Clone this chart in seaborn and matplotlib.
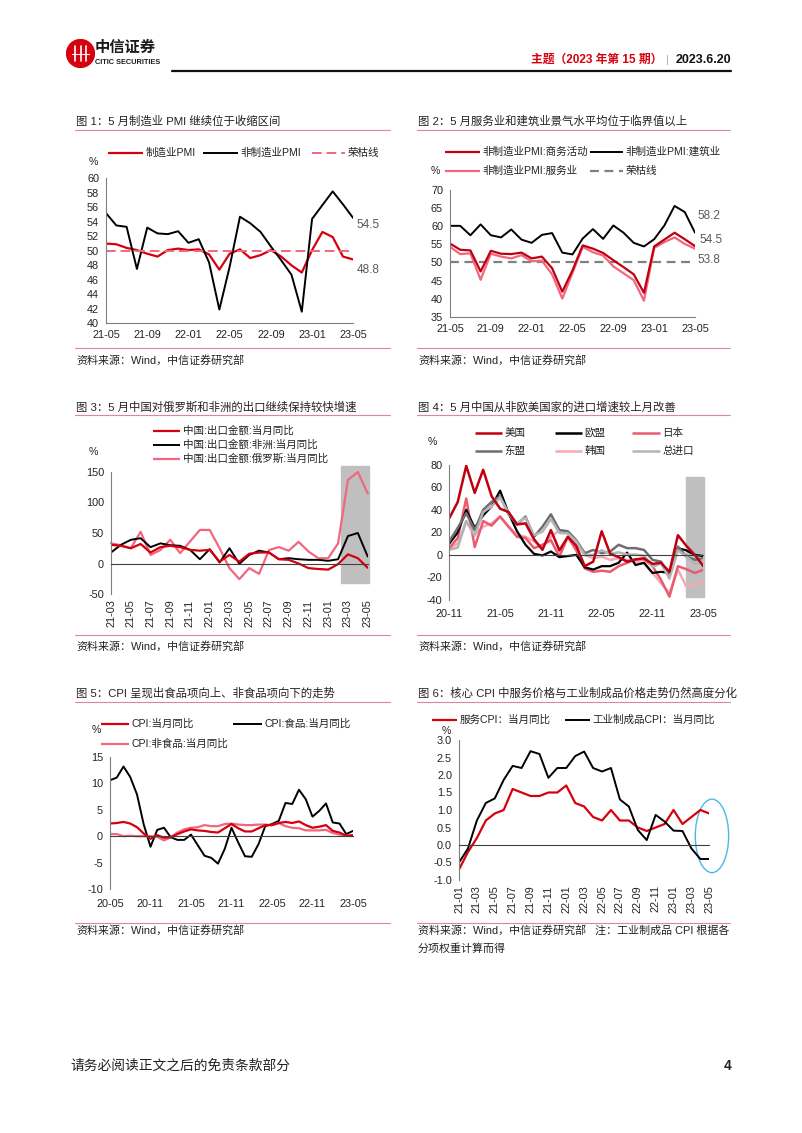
import numpy as np
import pandas as pd
import matplotlib
matplotlib.use("Agg")
import matplotlib.pyplot as plt
import seaborn as sns
from matplotlib.lines import Line2D
from matplotlib.patches import Ellipse, Circle, Rectangle

# ---------------- data ----------------
# Chart 1 / 2 : 2021-05 .. 2023-05
months_pmi = pd.period_range("2021-05", "2023-05", freq="M").strftime("%y-%m").tolist()
mfg_pmi = [51.0, 50.9, 50.4, 50.1, 49.6, 49.2, 50.1, 50.3, 50.1, 50.2, 49.5, 47.4, 49.6,
           50.2, 49.0, 49.4, 50.1, 49.2, 48.0, 47.0, 50.1, 52.6, 51.9, 49.2, 48.8]
nonmfg_pmi = [55.2, 53.5, 53.3, 47.5, 53.2, 52.4, 52.3, 52.7, 51.1, 51.6, 48.4, 41.9, 47.8,
              54.7, 53.8, 52.6, 50.6, 48.7, 46.7, 41.6, 54.4, 56.3, 58.2, 56.4, 54.5]
construction_pmi = [60.1, 60.1, 57.5, 60.5, 57.5, 56.9, 59.1, 56.3, 55.4, 57.6, 58.1, 52.7, 52.2,
                    56.6, 59.2, 56.5, 60.2, 58.2, 55.4, 54.4, 56.4, 60.2, 65.6, 63.9, 58.2]
services_pmi = [54.3, 52.3, 52.5, 45.2, 52.4, 51.6, 51.1, 52.0, 50.3, 50.5, 46.7, 40.0, 47.1,
                54.3, 52.8, 51.9, 48.9, 47.0, 45.1, 39.4, 54.0, 55.6, 56.9, 55.1, 53.8]
boom_line = 50

# Chart 3 : 2021-03 .. 2023-05
months_exp = pd.period_range("2021-03", "2023-05", freq="M").strftime("%y-%m").tolist()
exp_total = [30.6, 29, 25, 32, 18, 26.8, 29, 26.8, 22.4, 21, 22.4, 3, 14, 3, 16, 18, 18, 7,
             6, 0, -7.6, -9, -10, -1, 15, 8.7, -7]
exp_africa = [18, 30.6, 38.8, 41.5, 26.8, 33, 30, 29, 22.4, 7, 23.5, 1.6, 25, -0.5, 14, 21, 18,
              7, 8.7, 7, 6, 6, 4.4, 7, 45, 50, 11.5]
exp_russia = [33, 30, 25, 52, 14, 22, 39, 17, 36, 55, 55, 25, -7.6, -25.7, -7.6, -17, 22, 27,
              21, 35.5, 19.7, 8.7, 8.7, 33, 137, 150, 115]
exp_shade = (23.3, 26.1, -31.5, 160)

# Chart 4 : 2020-11 .. 2023-05
months_imp = pd.period_range("2020-11", "2023-05", freq="M").strftime("%y-%m").tolist()
imp_us = [32.6, 47, 79, 55, 75.5, 52, 41, 38, 27, 28, 14, 4.5, 22, 4, 16, 8, -10, -6, 21, 1,
          -2, -6, -4, -3, -8, -7, -15, 17.5, 8, 0, -10]
imp_eu = [10, 20, 40, 24, 35, 43, 57, 37, 21, 9, 1, -0.5, 3, -2, -1, 0, -11, -13, -10, -10,
          -7, 2, -9, -7, -16, -15, -16, 6, 4, 0, -1]
imp_japan = [6, 15, 50, 7, 30, 26, 34, 25, 16, 15, 6, 9, 13, -1.5, 16, 4, -12, -15, -14, -15,
             -10, -7, -4, -4, -10, -22, -37, -10, -12.7, -16, -13.3]
imp_asean = [12, 24, 37, 22, 40, 47, 52, 36, 27, 34, 16, 25, 36, 22, 21, 13, 1.5, 4.4, 1.5, 3,
             9, 6, 6, 4.4, -4.4, -6, -18, 7.4, -1.5, -4.4, -3]
imp_korea = [6, 10, 30, 18, 25, 28, 34, 25, 18, 16, 12, 7, 16, 22, 19, 10, 0, -3, -1.5, -4.4,
             -3, -4.4, -6, -7.4, -16, -25, -34, -13, -28, -26.7, -23.7]
imp_total = [4.5, 6.5, 30, 17, 38, 43, 51, 37, 28, 33, 17.6, 20.6, 31.7, 19.5, 19, 12, -0.1, 0,
             4.1, 1, 2.3, 0.3, 0.3, -0.7, -10.6, -7.5, -21, 4, -1.4, -7.9, -4.5]
imp_shade = (28.0, 30.05, -37.3, 69.3)

# Chart 5 : 2020-05 .. 2023-05
months_cpi = pd.period_range("2020-05", "2023-05", freq="M").strftime("%y-%m").tolist()
cpi_all = [2.4, 2.5, 2.7, 2.4, 1.7, 0.5, -0.5, 0.2, -0.3, -0.2, 0.4, 0.9, 1.3, 1.1, 1.0, 0.8,
           0.7, 1.5, 2.3, 1.5, 0.9, 0.9, 1.5, 2.1, 2.1, 2.5, 2.7, 2.5, 2.8, 2.1, 1.6, 1.8,
           2.1, 1.0, 0.7, 0.1, 0.2]
cpi_food = [10.6, 11.1, 13.2, 11.2, 7.9, 2.2, -2.0, 1.2, 1.6, -0.2, -0.7, -0.7, 0.3, -1.7,
            -3.7, -4.1, -5.2, -2.4, 1.6, -1.2, -3.8, -3.9, -1.5, 1.9, 2.3, 2.9, 6.3, 6.1,
            8.8, 7.0, 3.7, 4.8, 6.2, 2.6, 2.4, 0.4, 1.0]
cpi_nonfood = [0.4, 0.4, 0.0, 0.1, 0.0, 0.0, 0.0, -0.1, -0.8, -0.2, 0.7, 1.3, 1.6, 1.7, 2.1,
               1.9, 1.9, 2.3, 2.4, 2.2, 2.1, 2.1, 2.2, 2.2, 2.1, 2.5, 1.9, 1.6, 1.5, 1.1,
               1.1, 1.1, 1.2, 0.6, 0.3, 0.1, 0.0]

# Chart 6 : 2021-01 .. 2023-05
months_core = pd.period_range("2021-01", "2023-05", freq="M").strftime("%y-%m").tolist()
cpi_service = [-0.7, -0.2, 0.2, 0.7, 0.9, 1.0, 1.6, 1.5, 1.4, 1.4, 1.5, 1.5, 1.7, 1.2, 1.1,
               0.8, 0.7, 1.0, 0.7, 0.7, 0.5, 0.4, 0.5, 0.6, 1.0, 0.6, 0.8, 1.0, 0.9]
cpi_goods = [-0.5, -0.1, 0.7, 1.2, 1.33, 1.86, 2.26, 2.2, 2.68, 2.6, 1.92, 2.2, 2.2, 2.54,
             2.67, 2.2, 2.1, 2.2, 1.3, 1.1, 0.43, 0.14, 0.86, 0.67, 0.41, 0.4, -0.1, -0.4, -0.4]

# ---------------- style ----------------
sns.set_theme(style="white")
plt.rcParams["font.family"] = ["Liberation Sans", "Noto Sans CJK SC", "DejaVu Sans"]
plt.rcParams["axes.unicode_minus"] = False

RED = "#D7000F"
DARKRED = "#C00010"
PINK = "#F2677D"
LPINK = "#F5A9B4"
TXT = "#222222"
AXC = "#7f7f7f"

W, H = 802, 1133
fig = plt.figure(figsize=(W / 100, H / 100), dpi=100)
fig.patch.set_facecolor("white")


def add_ax(l, r, t, b):
    return fig.add_axes([l / W, 1 - b / H, (r - l) / W, (b - t) / H])


def ftext(x, y, s, **kw):
    kw.setdefault("va", "center")
    kw.setdefault("ha", "left")
    kw.setdefault("color", TXT)
    fig.text(x / W, 1 - y / H, s, **kw)


def fline(x0, x1, y, **kw):
    fig.add_artist(Line2D([x0 / W, x1 / W], [1 - y / H, 1 - y / H],
                          transform=fig.transFigure, **kw))


def legend_item(x0, x1, y, text, color, lw=1.6, dashes=None, fs=7.6):
    kw = dict(color=color, lw=lw, solid_capstyle="butt")
    if dashes is not None:
        kw["dashes"] = dashes
    fline(x0, x1, y, **kw)
    ftext(x1 + 2.5, y, text, fontsize=fs)


def style(ax):
    for s in ["top", "right"]:
        ax.spines[s].set_visible(False)
    for s in ["left", "bottom"]:
        ax.spines[s].set_color(AXC)
        ax.spines[s].set_linewidth(0.8)
    ax.tick_params(axis="both", direction="out", length=3, width=0.8, color=AXC,
                   labelsize=7.8, labelcolor=TXT, pad=2)
    ax.set_facecolor("none")
    ax.grid(False)
    ax.set_xlabel("")
    ax.set_ylabel("")


def panel_frame(x0, x1, ytitle, title, yline_top, yline_bot, ysrc, src_lines):
    ftext(x0 + 1, ytitle, title, fontsize=8.2)
    fline(x0, x1, yline_top, color="#D98A94", lw=0.8)
    fline(x0, x1, yline_bot, color="#D98A94", lw=0.8)
    for k, s in enumerate(src_lines):
        ftext(x0 + 1, ysrc + 19 * k, s, fontsize=7.9)


SRC = "资料来源：Wind，中信证券研究部"

# ---------------- header / footer ----------------
lax = fig.add_axes([66 / W, 1 - 68 / H, 29 / W, 29 / H])
lax.set_xlim(0, 1); lax.set_ylim(0, 1); lax.set_aspect("equal"); lax.axis("off")
lax.add_patch(Circle((0.5, 0.5), 0.48, color=RED))
for xx in [0.3, 0.5, 0.7]:
    lax.plot([xx, xx], [0.25, 0.75], color="white", lw=1.2)
lax.plot([0.22, 0.78], [0.5, 0.5], color="white", lw=0.8)
ftext(95, 48, "中信证券", fontsize=11, fontweight="bold", color="#1a1a1a")
ftext(95, 63, "CITIC SECURITIES", fontsize=5.3, fontweight="bold", color="#1a1a1a")
ftext(662, 60, "主题（2023 年第 15 期）", fontsize=8.5, fontweight="bold", color=RED, ha="right")
ftext(667, 60, "|", fontsize=8, color="#aaaaaa", ha="center")
ftext(731, 60, "2023.6.20", fontsize=9, fontweight="bold", color="#111111", ha="right")
fline(172, 731, 71, color="#111111", lw=1.6)
ftext(70, 1066, "请务必阅读正文之后的免责条款部分", fontsize=9.9)
ftext(731, 1066, "4", fontsize=9.9, fontweight="bold", ha="right")

# ---------------- Chart 1 ----------------
panel_frame(75, 390, 121, "图 1：5 月制造业 PMI 继续位于收缩区间", 130, 348, 360, [SRC])
ax1 = add_ax(106, 353.3, 178.3, 323.3)
x1 = np.arange(len(months_pmi))
sns.lineplot(x=x1, y=mfg_pmi, ax=ax1, color=RED, linewidth=1.6)
sns.lineplot(x=x1, y=nonmfg_pmi, ax=ax1, color="black", linewidth=1.4)
ax1.axhline(boom_line, color=PINK, lw=1.4, dashes=(5, 2.5))
style(ax1)
ax1.set_xlim(0, len(x1) - 1)
ax1.set_ylim(40, 60)
ax1.set_yticks(np.arange(40, 61, 2))
ax1.set_xticks(x1[::4])
ax1.set_xticklabels(months_pmi[::4])
ax1.text(24.35, nonmfg_pmi[-1] - 1.0, f"{nonmfg_pmi[-1]}", fontsize=8.5, color="#595959", va="center")
ax1.text(24.35, mfg_pmi[-1] - 1.45, f"{mfg_pmi[-1]}", fontsize=8.5, color="#595959", va="center")
legend_item(108, 143, 153, "制造业PMI", RED)
legend_item(203, 238, 153, "非制造业PMI", "black", lw=1.4)
legend_item(312, 345, 153, "荣枯线", PINK, lw=1.4, dashes=(5, 2.5))
ftext(89, 162, "%", fontsize=7.6)

# ---------------- Chart 2 ----------------
panel_frame(417, 730, 121, "图 2：5 月服务业和建筑业景气水平均位于临界值以上", 130, 348, 360, [SRC])
ax2 = add_ax(450, 695, 190, 316.7)
ax2.axhline(boom_line, color="#808080", lw=1.6, dashes=(4, 2.5))
sns.lineplot(x=x1, y=construction_pmi, ax=ax2, color="black", linewidth=1.4)
sns.lineplot(x=x1, y=services_pmi, ax=ax2, color=PINK, linewidth=1.6)
sns.lineplot(x=x1, y=nonmfg_pmi, ax=ax2, color=DARKRED, linewidth=1.6)
style(ax2)
ax2.set_xlim(0, len(x1) - 1)
ax2.set_ylim(35, 70)
ax2.set_yticks(np.arange(35, 71, 5))
ax2.set_xticks(x1[::4])
ax2.set_xticklabels(months_pmi[::4])
ax2.text(24.2, construction_pmi[-1] + 4.6, f"{construction_pmi[-1]}", fontsize=8.5, color="#595959", va="center")
ax2.text(24.4, nonmfg_pmi[-1] + 1.7, f"{nonmfg_pmi[-1]}", fontsize=8.5, color="#595959", va="center")
ax2.text(24.2, services_pmi[-1] - 3.1, f"{services_pmi[-1]}", fontsize=8.5, color="#595959", va="center")
legend_item(445, 480, 152, "非制造业PMI:商务活动", DARKRED)
legend_item(590, 623, 152, "非制造业PMI:建筑业", "black", lw=1.4)
legend_item(445, 480, 171, "非制造业PMI:服务业", PINK)
legend_item(590, 623, 171, "荣枯线", "#808080", dashes=(4, 2.5))
ftext(431, 171, "%", fontsize=7.6)

# ---------------- Chart 3 ----------------
panel_frame(75, 390, 407, "图 3：5 月中国对俄罗斯和非洲的出口继续保持较快增速", 415, 635, 646, [SRC])
ax3 = add_ax(111, 367.7, 472, 594)
x3 = np.arange(len(months_exp))
ax3.add_patch(Rectangle((exp_shade[0], exp_shade[2]), exp_shade[1] - exp_shade[0],
                        exp_shade[3] - exp_shade[2], color="#BFBFBF", zorder=0.5, clip_on=False))
sns.lineplot(x=x3, y=exp_russia, ax=ax3, color=PINK, linewidth=1.6, clip_on=False)
sns.lineplot(x=x3, y=exp_africa, ax=ax3, color="black", linewidth=1.4)
sns.lineplot(x=x3, y=exp_total, ax=ax3, color=RED, linewidth=1.6)
style(ax3)
ax3.set_xlim(0, len(x3) - 1)
ax3.set_ylim(-50, 150)
ax3.set_yticks(np.arange(-50, 151, 50))
ax3.spines["bottom"].set_position(("data", 0))
ax3.spines["bottom"].set_color("#404040")
ax3.set_xticks(x3[::2])
ax3.set_xticklabels(months_exp[::2], rotation=90)
ax3.tick_params(axis="x", pad=23)
legend_item(153, 180, 431, "中国:出口金额:当月同比", RED)
legend_item(153, 180, 445, "中国:出口金额:非洲:当月同比", "black", lw=1.4)
legend_item(153, 180, 459, "中国:出口金额:俄罗斯:当月同比", PINK)
ftext(89, 452, "%", fontsize=7.6)

# ---------------- Chart 4 ----------------
panel_frame(417, 730, 407, "图 4：5 月中国从非欧美国家的进口增速较上月改善", 415, 635, 646, [SRC])
ax4 = add_ax(449.3, 703.3, 464.7, 600)
x4 = np.arange(len(months_imp))
ax4.add_patch(Rectangle((imp_shade[0], imp_shade[2]), imp_shade[1] - imp_shade[0],
                        imp_shade[3] - imp_shade[2], color="#BFBFBF", zorder=0.5, clip_on=False))
GREY_D = "#6E6E6E"
GREY_L = "#B4B4B4"
JAPAN = "#EC5A70"
sns.lineplot(x=x4, y=imp_korea, ax=ax4, color=LPINK, linewidth=1.8)
sns.lineplot(x=x4, y=imp_japan, ax=ax4, color=JAPAN, linewidth=1.8)
sns.lineplot(x=x4, y=imp_eu, ax=ax4, color="black", linewidth=1.6)
sns.lineplot(x=x4, y=imp_asean, ax=ax4, color=GREY_D, linewidth=1.8)
sns.lineplot(x=x4, y=imp_total, ax=ax4, color=GREY_L, linewidth=1.8)
sns.lineplot(x=x4, y=imp_us, ax=ax4, color=DARKRED, linewidth=1.8)
style(ax4)
ax4.set_xlim(0, len(x4) - 1)
ax4.set_ylim(-40, 80)
ax4.set_yticks(np.arange(-40, 81, 20))
ax4.spines["bottom"].set_position(("data", 0))
ax4.spines["bottom"].set_color("#404040")
ax4.set_xticks(x4[::6])
ax4.set_xticklabels(months_imp[::6])
ax4.tick_params(axis="x", pad=36)
legend_item(475, 502, 433, "美国", DARKRED, lw=1.8)
legend_item(555, 582, 433, "欧盟", "black", lw=1.8)
legend_item(632, 660, 433, "日本", JAPAN, lw=1.8)
legend_item(475, 502, 451, "东盟", GREY_D, lw=1.8)
legend_item(555, 582, 451, "韩国", LPINK, lw=1.8)
legend_item(632, 660, 451, "总进口", GREY_L, lw=1.8)
ftext(428, 442, "%", fontsize=7.6)

# ---------------- Chart 5 ----------------
panel_frame(75, 390, 693, "图 5：CPI 呈现出食品项向上、非食品项向下的走势", 702, 923, 930, [SRC])
ax5 = add_ax(110, 353, 757, 889)
x5 = np.arange(len(months_cpi))
sns.lineplot(x=x5, y=cpi_food, ax=ax5, color="black", linewidth=1.4)
sns.lineplot(x=x5, y=cpi_nonfood, ax=ax5, color=PINK, linewidth=1.6)
sns.lineplot(x=x5, y=cpi_all, ax=ax5, color=RED, linewidth=1.6)
style(ax5)
ax5.set_xlim(0, len(x5) - 1)
ax5.set_ylim(-10, 15)
ax5.set_yticks(np.arange(-10, 16, 5))
ax5.spines["bottom"].set_position(("data", 0))
ax5.spines["bottom"].set_color("#404040")
ax5.set_xticks(x5[::6])
ax5.set_xticklabels(months_cpi[::6])
ax5.tick_params(axis="x", pad=42)
legend_item(101, 129, 724, "CPI:当月同比", RED)
legend_item(233, 262, 724, "CPI:食品:当月同比", "black", lw=1.4)
legend_item(101, 129, 744, "CPI:非食品:当月同比", PINK)
ftext(92, 730, "%", fontsize=7.6)

# ---------------- Chart 6 ----------------
panel_frame(417, 730, 693, "图 6：核心 CPI 中服务价格与工业制成品价格走势仍然高度分化", 702, 923, 930,
            [SRC + "   注：工业制成品 CPI 根据各", "分项权重计算而得"])
ax6 = add_ax(459, 709.3, 740, 880)
x6 = np.arange(len(months_core))
sns.lineplot(x=x6, y=cpi_service, ax=ax6, color=RED, linewidth=1.6)
sns.lineplot(x=x6, y=cpi_goods, ax=ax6, color="black", linewidth=1.4)
style(ax6)
ax6.set_xlim(0, len(x6) - 1)
ax6.set_ylim(-1, 3)
ax6.set_yticks(np.arange(-1, 3.01, 0.5))
ax6.set_yticklabels([f"{v:.1f}" for v in np.arange(-1, 3.01, 0.5)])
ax6.spines["bottom"].set_position(("data", 0))
ax6.spines["bottom"].set_color("#404040")
ax6.set_xticks(x6[::2])
ax6.set_xticklabels(months_core[::2], rotation=90)
ax6.tick_params(axis="x", pad=26)
ax6.add_patch(Ellipse((28.3, 0.26), 3.73, 2.1, fill=False, edgecolor="#4DB8E8", lw=1.0, clip_on=False))
legend_item(432, 457, 720, "服务CPI：当月同比", RED)
legend_item(565, 590, 720, "工业制成品CPI：当月同比", "black", lw=1.4)
ftext(442, 731, "%", fontsize=7.6)

fig.savefig("out.png", dpi=100)
